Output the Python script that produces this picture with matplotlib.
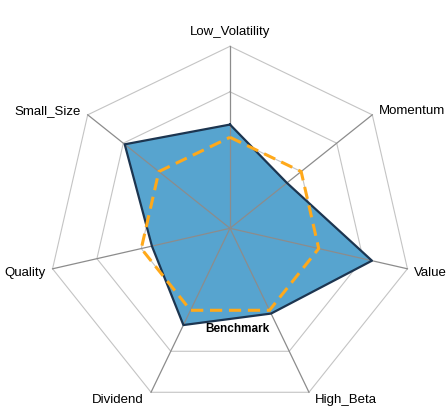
import numpy as np
import matplotlib
matplotlib.use("Agg")
import matplotlib.pyplot as plt

plt.rcParams['font.family'] = ['Liberation Sans', 'DejaVu Sans']

factors = ["Low_Volatility", "Momentum", "Value", "High_Beta", "Dividend", "Quality", "Small_Size"]
portfolio = [0.57, 0.40, 0.80, 0.52, 0.59, 0.44, 0.74]
benchmark = [0.50, 0.50, 0.50, 0.50, 0.50, 0.50, 0.50]
rings = [0.25, 0.5, 0.75, 1.0]

W, H = 448, 410
cx, cy, R = 230, 229.3, 182.0

fig = plt.figure(figsize=(W / 100, H / 100), dpi=100)
ax = fig.add_axes([0, 0, 1, 1])
ax.axis("off")
ax.set_xlim(-cx / R, (W - cx) / R)
ax.set_ylim(-(H - cy) / R, cy / R)

n = len(factors)
ang = np.pi / 2 - np.arange(n) * 2 * np.pi / n
ca, sa = np.cos(ang), np.sin(ang)

def closed(v):
    v = np.asarray(v, float)
    return np.append(v * ca, v[0] * ca[0]), np.append(v * sa, v[0] * sa[0])

# grid
for r in rings:
    x, y = closed([r] * n)
    ax.plot(x, y, color="#c4c4c4", lw=0.8, zorder=1)
for i in range(n):
    ax.plot([0, ca[i]], [0, sa[i]], color="#8c8c8c", lw=0.9, zorder=3)

# portfolio
x, y = closed(portfolio)
ax.fill(x, y, color="#57a4cf", lw=0, zorder=2)
ax.plot(x, y, color="#1c3550", lw=1.6, zorder=4)

# benchmark
x, y = closed(benchmark)
ax.plot(x, y, color="#ffa91a", lw=2.2, ls=(0, (4, 2.2)), zorder=5)

# labels
for i, lab in enumerate(factors):
    c, s = ca[i], sa[i]
    if abs(c) < 0.05:
        ax.text(0, 1.085, lab, ha="center", va="center", fontsize=9.5)
    else:
        ha = "left" if c > 0 else "right"
        dx = 0.035 if c > 0 else -0.04
        dy = 0.028 if s > 0.3 else (-0.02 if s > -0.5 else -0.035)
        ax.text(c + dx, s + dy, lab, ha=ha, va="center", fontsize=9.5)

ax.text(0.04, -0.55, "Benchmark", ha="center", va="center", fontsize=8.5, fontweight="bold")

fig.savefig("out.png", dpi=100)
